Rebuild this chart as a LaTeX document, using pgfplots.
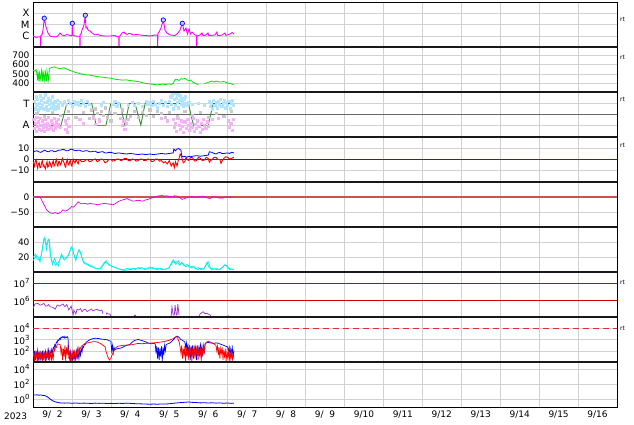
\documentclass[border=0pt]{standalone}
\usepackage{fontspec}
\setmainfont{DejaVu Sans}
\usepackage{pgfplots}
\pgfplotsset{compat=1.18}
\definecolor{cMag}{HTML}{FF00FF}
\definecolor{cGreen}{HTML}{00E600}
\definecolor{cLB}{HTML}{B0E4FF}
\definecolor{cPink}{HTML}{F8B0F8}
\definecolor{cGr}{HTML}{C8C8C8}
\definecolor{cStepB}{HTML}{4B4BFF}
\definecolor{cStepR}{HTML}{FF5050}
\definecolor{cStepG}{HTML}{3C8C3C}
\definecolor{cDRed}{HTML}{A00000}
\definecolor{cZero}{HTML}{D05050}
\definecolor{cMag2}{HTML}{E600E6}
\definecolor{cCyan}{HTML}{00F0F0}
\definecolor{cPurp}{HTML}{9B30D0}
\definecolor{cRedL}{HTML}{C80000}
\definecolor{cDash}{HTML}{E03030}
\newcommand{\tenp}[1]{10\raisebox{0.45em}{\fontsize{7}{7}\selectfont#1}}
\pgfplotsset{panel/.style={
  scale only axis, width=584pt, height=45pt, xmin=0, xmax=15,
  anchor=south west,
  axis line style={line width=0.5pt},
  xtick={0.5,1.5,...,14.5}, xticklabels={},
  minor xtick={1,2,...,14}, xminorgrids=true,
  major tick length=0pt, minor tick length=0pt,
  ymajorgrids=true,
  grid style={line width=0.4pt, color=black!18},
  minor grid style={line width=0.4pt, color=black!18},
  tick label style={font=\fontsize{9}{10}\selectfont},
  unbounded coords=jump,
  every axis plot/.append style={line width=0.6pt},
}}
\begin{document}
\begin{tikzpicture}
\useasboundingbox (0pt,0pt) rectangle (634pt,424pt);
% Panel 1: X-ray
\begin{axis}[panel, at={(33pt,377pt)}, ymode=log, ymin=1e-7, ymax=1e-3,
  ytick={1e-6,1e-5,1e-4}, yticklabels={C,M,X},
  yticklabel style={font=\fontsize{10}{11}\selectfont}]
\addplot[cMag, line width=0.9pt] coordinates {(0,9.5e-7)(0.077,7.0e-7)(0.15,8e-7)(0.195,7.5e-7)(0.198,1e-9)(0.201,1.1e-6)(0.231,1.17e-6)(0.257,3.2e-6)(0.290,3.6e-5)(0.334,6.0e-6)(0.385,1.75e-6)(0.437,9.5e-7)(0.565,7.7e-7)(0.63,9e-7)(0.694,1.75e-6)(0.745,1.17e-6)(0.80,1.0e-6)(0.873,1.3e-6)(0.950,1.05e-6)(1.0,1.1e-6)(1.010,1.28e-5)(1.027,1.1e-6)(1.079,9.5e-7)(1.15,9e-7)(1.204,9e-7)(1.207,1e-9)(1.210,1.3e-6)(1.233,1.43e-6)(1.259,3.2e-6)(1.310,9.0e-6)(1.343,6.6e-5)(1.361,4.9e-6)(1.385,6e-6)(1.413,3.2e-6)(1.464,2.6e-6)(1.516,1.75e-6)(1.593,1.17e-6)(1.670,1.43e-6)(1.721,1.05e-6)(1.849,9.5e-7)(1.978,9.5e-7)(2.106,1.05e-6)(2.183,7.7e-7)(2.206,7.7e-7)(2.209,1e-9)(2.212,9.5e-7)(2.235,9.5e-7)(2.286,1.75e-6)(2.338,2.15e-6)(2.36,1.6e-6)(2.415,1.3e-6)(2.46,1.6e-6)(2.492,1.6e-6)(2.569,1.17e-6)(2.646,1.3e-6)(2.749,1.17e-6)(2.877,1.05e-6)(3.006,9.5e-7)(3.134,1.17e-6)(3.200,1.1e-6)(3.203,1e-9)(3.206,1.5e-6)(3.237,2.15e-6)(3.288,4.9e-6)(3.347,2.5e-5)(3.391,3.2e-6)(3.442,1.75e-6)(3.519,1.17e-6)(3.647,1.05e-6)(3.724,1.75e-6)(3.776,3.2e-6)(3.835,1.28e-5)(3.879,2.6e-6)(3.930,4.9e-6)(3.969,1.43e-6)(4.007,4.0e-6)(4.046,1.43e-6)(4.084,2.15e-6)(4.161,1.17e-6)(4.202,1.1e-6)(4.205,1e-9)(4.208,1.0e-6)(4.238,1.0e-6)(4.290,1.17e-6)(4.341,1.75e-6)(4.36,1.1e-6)(4.418,1.05e-6)(4.495,1.75e-6)(4.51,1.1e-6)(4.547,1.05e-6)(4.675,1.17e-6)(4.726,2.15e-6)(4.74,1.1e-6)(4.778,1.05e-6)(4.855,1.17e-6)(4.932,1.75e-6)(4.95,1.1e-6)(4.983,1.17e-6)(5.060,1.43e-6)(5.112,1.95e-6)(5.163,1.43e-6)};
\addplot[only marks, mark=*, mark size=2.2pt, mark options={draw=blue, fill=blue!20, line width=0.7pt}] coordinates {(0.290,3.6e-5)(1.010,1.28e-5)(1.343,6.6e-5)(3.347,2.5e-5)(3.835,1.28e-5)};
\end{axis}
% Panel 2: speed
\begin{axis}[panel, at={(33pt,332pt)}, ymin=310, ymax=784,
  ytick={400,500,600,700}, yticklabels={400,500,600,700}]
\addplot[cGreen, line width=0.8pt] coordinates {(0,540)(0.05,530)(0.08,545)(0.1,500)(0.12,430)(0.13,520)(0.16,420)(0.17,510)(0.2,440)(0.22,530)(0.25,420)(0.26,520)(0.3,430)(0.31,540)(0.35,425)(0.36,530)(0.4,440)(0.42,560)(0.5,570)(0.55,575)(0.6,565)(0.65,560)(0.7,555)(0.8,565)(0.85,555)(0.9,545)(1.0,530)(1.1,515)(1.2,505)(1.3,495)(1.4,490)(1.5,485)(1.6,475)(1.7,470)(1.8,465)(1.9,460)(2.0,455)(2.1,445)(2.2,440)(2.3,435)(2.4,438)(2.5,430)(2.6,425)(2.7,420)(2.8,410)(2.9,400)(3.0,395)(3.1,390)(3.2,385)(3.3,392)(3.4,390)(3.5,395)(3.55,390)(3.6,400)(3.65,440)(3.7,445)(3.75,430)(3.8,450)(3.85,445)(3.9,455)(3.95,440)(4.0,430)(4.05,435)(4.1,415)(4.15,405)(4.2,395)(4.25,385)(4.3,nan)(4.4,400)(4.5,410)(4.55,420)(4.6,425)(4.65,415)(4.7,425)(4.8,415)(4.9,420)(5.0,405)(5.1,395)(5.16,385)};
\end{axis}
% Panel 3: sector
\begin{axis}[panel, at={(33pt,287pt)}, ymin=-2.1, ymax=2.05,
  ytick={-1,1}, yticklabels={A,T},
  yticklabel style={font=\fontsize{10}{11}\selectfont}]
\addplot[only marks, mark=square*, mark size=1.1pt, cGr] coordinates {(0.1,0.1)(0.3,-0.2)(0.5,0.2)(0.7,-0.1)(0.9,0.3)(1.1,-0.3)(1.3,0.2)(1.45,-0.4)(1.5,0.4)(1.55,-0.2)(1.6,0.5)(1.65,0.1)(1.7,-0.5)(1.75,0.3)(1.8,-0.1)(1.85,0.6)(1.9,-0.3)(1.95,0.2)(2.0,-0.6)(2.1,0.1)(2.3,0.4)(2.5,-0.2)(2.6,0.3)(2.7,-0.3)(2.8,0.2)(2.9,-0.1)(3.0,0.4)(3.1,-0.2)(3.2,0.3)(3.3,0.1)(3.4,-0.3)(3.5,0.2)(3.7,-0.2)(3.9,0.3)(4.1,-0.1)(4.3,0.2)(4.5,-0.3)(4.7,0.1)(4.9,-0.2)(5.1,0.3)};
\addplot[only marks, mark=square*, mark size=1.1pt, cLB] coordinates {(0.04,1.2)(0.06,0.5)(0.08,1.6)(0.10,0.8)(0.12,1.4)(0.14,0.4)(0.16,1.0)(0.18,1.7)(0.20,0.6)(0.22,1.3)(0.24,0.9)(0.26,1.5)(0.28,0.5)(0.30,1.1)(0.32,1.8)(0.34,0.7)(0.36,1.2)(0.38,0.4)(0.40,1.5)(0.42,0.9)(0.44,1.3)(0.46,0.6)(0.48,1.0)(0.50,1.6)(0.52,0.8)(0.54,1.2)(0.56,0.5)(0.58,1.1)(0.60,0.7)(0.62,1.3)(0.64,0.9)(0.66,0.6)(0.70,1.1)(0.75,0.8)(0.80,1.2)(0.85,0.9)(0.90,1.3)(0.95,1.0)(1.00,0.7)(1.05,1.2)(1.10,0.9)(1.15,1.1)(1.20,0.8)(1.25,1.3)(1.30,1.0)(1.35,0.7)(1.40,1.2)(1.45,0.9)(1.75,0.8)(1.80,1.1)(2.05,0.9)(2.10,1.2)(2.15,0.7)(2.20,1.0)(2.45,0.8)(2.55,1.1)(2.60,0.8)(2.70,1.0)(2.80,0.7)(2.90,1.2)(2.95,0.9)(3.00,1.1)(3.05,0.8)(3.10,1.2)(3.15,0.9)(3.20,0.6)(3.25,1.0)(3.30,1.3)(3.35,0.8)(3.40,1.1)(3.45,0.7)(3.50,1.2)(3.54,1.6)(3.56,0.9)(3.58,1.8)(3.60,0.5)(3.62,1.4)(3.64,1.9)(3.66,0.8)(3.68,1.5)(3.70,1.1)(3.72,1.8)(3.74,0.6)(3.76,1.3)(3.78,1.7)(3.80,0.9)(3.82,1.5)(3.84,1.2)(3.86,0.7)(3.88,1.4)(3.90,1.0)(3.92,1.6)(3.95,0.8)(4.00,1.1)(4.10,0.9)(4.25,1.0)(4.40,0.8)(4.52,1.2)(4.55,0.7)(4.58,1.0)(4.61,0.5)(4.64,1.3)(4.67,0.8)(4.70,1.1)(4.73,0.6)(4.76,1.2)(4.79,0.9)(4.82,1.4)(4.85,0.7)(4.88,1.0)(4.91,1.3)(4.94,0.6)(4.97,1.1)(5.00,0.8)(5.03,1.2)(5.06,0.5)(5.09,1.0)(5.12,1.3)(5.15,0.8)};
\addplot[only marks, mark=square*, mark size=1.1pt, cPink] coordinates {(0.02,-0.5)(0.04,-1.3)(0.06,-0.8)(0.08,-1.6)(0.10,-0.3)(0.12,-1.1)(0.14,-0.7)(0.16,-1.4)(0.18,-0.4)(0.20,-1.0)(0.22,-1.5)(0.24,-0.6)(0.26,-1.2)(0.28,-0.9)(0.30,-1.6)(0.32,-0.5)(0.34,-1.1)(0.36,-0.8)(0.38,-1.4)(0.40,-0.3)(0.42,-1.0)(0.44,-1.3)(0.46,-0.6)(0.48,-1.2)(0.50,-0.8)(0.52,-1.5)(0.54,-0.4)(0.56,-1.0)(0.58,-1.3)(0.60,-0.7)(0.62,-1.1)(0.64,-0.5)(0.66,-0.9)(0.70,-1.2)(0.82,-0.6)(0.84,-1.4)(0.86,-0.9)(0.88,-1.7)(0.90,-0.4)(0.92,-1.1)(1.20,-0.5)(1.30,-0.8)(1.55,-0.4)(1.60,-0.9)(1.70,-0.6)(2.25,-0.4)(2.30,-1.0)(2.33,-0.6)(2.36,-1.4)(2.40,-0.8)(2.44,-0.5)(3.30,-0.4)(3.45,-0.6)(3.60,-0.5)(3.63,-1.2)(3.66,-0.8)(3.69,-1.6)(3.72,-0.4)(3.75,-1.0)(3.78,-1.4)(3.81,-0.6)(3.84,-1.1)(3.87,-1.7)(3.90,-0.7)(3.93,-1.3)(3.96,-0.5)(3.99,-1.0)(4.02,-1.5)(4.05,-0.8)(4.08,-1.2)(4.11,-0.4)(4.14,-1.6)(4.17,-0.9)(4.20,-1.3)(4.23,-0.6)(4.26,-1.1)(4.29,-1.7)(4.32,-0.8)(4.35,-1.4)(4.38,-0.5)(4.41,-1.0)(4.44,-1.3)(4.47,-0.7)(4.50,-1.1)(4.60,-0.5)(4.75,-0.4)(5.02,-0.6)(5.05,-1.2)(5.08,-0.8)(5.11,-1.5)(5.14,-0.5)};
\addplot[color=black!60, line width=0.7pt] coordinates {(0,0)(15,0)};
\addplot[cStepR, line width=0.9pt] coordinates {(0,-1)(0.72,-1)};
\addplot[cStepR, line width=0.9pt] coordinates {(1.62,-1)(1.875,-1)};
\addplot[cStepR, line width=0.9pt] coordinates {(4.12,-1)(4.50,-1)};
\addplot[cStepB, line width=0.9pt] coordinates {(0.87,1)(1.51,1)};
\addplot[cStepB, line width=0.9pt] coordinates {(2.0,1)(2.235,1)};
\addplot[cStepB, line width=0.9pt] coordinates {(2.47,1)(2.62,1)};
\addplot[cStepB, line width=0.9pt] coordinates {(2.88,1)(3.99,1)};
\addplot[cStepB, line width=0.9pt] coordinates {(4.63,1)(5.14,1)};
\addplot[cStepG, line width=0.9pt] coordinates {(0.72,-1)(0.87,1)};
\addplot[cStepG, line width=0.9pt] coordinates {(1.51,1)(1.62,-1)};
\addplot[cStepG, line width=0.9pt] coordinates {(1.875,-1)(2.0,1)};
\addplot[cStepG, line width=0.9pt] coordinates {(2.235,1)(2.36,-1)(2.47,1)};
\addplot[cStepG, line width=0.9pt] coordinates {(2.62,1)(2.77,-1)(2.88,1)};
\addplot[cStepG, line width=0.9pt] coordinates {(3.99,1)(4.12,-1)};
\addplot[cStepG, line width=0.9pt] coordinates {(4.50,-1)(4.63,1)};
\end{axis}
% Panel 4: IMF
\begin{axis}[panel, at={(33pt,242pt)}, ymin=-20.5, ymax=20.5,
  ytick={-10,0,10}, yticklabels={−10,0,10}]
\addplot[cDRed, line width=0.6pt] coordinates {(0,0)(15,0)};
\addplot[blue, line width=0.8pt] coordinates {(0,7)(0.05,7.5)(0.1,8)(0.15,7)(0.2,6.5)(0.25,7.5)(0.3,8.5)(0.35,7.5)(0.4,7)(0.45,8)(0.5,8)(0.55,7)(0.6,7.5)(0.65,8.5)(0.7,8.5)(0.75,9)(0.8,9)(0.85,8)(0.9,8)(0.95,9)(1.0,9.5)(1.05,8.5)(1.1,8)(1.15,8.5)(1.2,8.5)(1.25,7.5)(1.3,7.5)(1.35,8)(1.4,8)(1.45,7)(1.5,7)(1.55,7.5)(1.6,7.5)(1.65,6.5)(1.7,6.5)(1.75,7)(1.8,7)(1.85,6)(1.9,6)(1.95,6.5)(2.0,6.5)(2.1,5.5)(2.2,6)(2.3,5.5)(2.4,5)(2.5,5.5)(2.6,5)(2.7,4.5)(2.8,5)(2.9,4.5)(3.0,5)(3.1,4.5)(3.2,5)(3.3,5.5)(3.4,5)(3.5,5.5)(3.6,6)(3.62,9.5)(3.66,8)(3.7,9.5)(3.74,10)(3.78,9)(3.8,8.5)(3.82,3)(3.86,2.5)(3.9,3)(3.95,2)(4.0,3)(4.05,2.5)(4.1,3)(4.2,3.5)(4.3,3)(4.4,3.5)(4.5,4)(4.53,7)(4.6,6.5)(4.65,5.5)(4.7,5)(4.75,6)(4.8,6.5)(4.85,5.5)(4.9,5.5)(5.0,6)(5.05,5.5)(5.1,6.5)(5.16,6)};
\addplot[red, line width=0.9pt] coordinates {(0,-2)(0.04,-6)(0.06,-1)(0.08,0)(0.1,-5)(0.12,-8)(0.14,-4)(0.16,-3)(0.18,-7.5)(0.2,-7)(0.22,-3)(0.24,-1)(0.26,-6)(0.28,-5)(0.3,-7)(0.32,-8.5)(0.34,-4)(0.36,-2)(0.38,-7)(0.4,-6)(0.42,-2)(0.44,-3)(0.46,-6)(0.48,-7)(0.5,-3)(0.52,-1)(0.54,-6)(0.56,-5)(0.58,-2)(0.6,0)(0.62,-5)(0.64,-6)(0.66,-2)(0.68,-2)(0.7,-5)(0.72,-4)(0.74,-1)(0.76,1)(0.78,-2)(0.8,-3)(0.82,-6)(0.84,-7)(0.86,-2)(0.88,0)(0.9,-4)(0.92,-5)(0.94,-2)(0.96,-1)(0.98,-5)(1.0,-6)(1.02,-2)(1.04,0)(1.06,-2)(1.08,-3)(1.1,-1)(1.12,-1)(1.14,-3)(1.16,-4)(1.18,-1)(1.2,0)(1.25,-2)(1.3,-2)(1.35,-0.5)(1.4,0)(1.45,-2)(1.5,-1.5)(1.55,0)(1.6,0.5)(1.65,-2)(1.7,-1)(1.75,0.5)(1.8,0)(1.85,-3)(1.9,-2)(1.95,0)(2.0,0)(2.05,-1.5)(2.1,-1)(2.15,0.5)(2.2,0.5)(2.25,-1)(2.3,-0.5)(2.35,1)(2.4,1)(2.45,-1)(2.5,-1)(2.55,0.5)(2.6,0)(2.65,-1.5)(2.7,-1)(2.75,0.5)(2.8,0.5)(2.85,-1)(2.9,-1)(2.95,0.5)(3.0,0)(3.05,-2)(3.1,-1.5)(3.15,0.5)(3.2,0.5)(3.25,-1.5)(3.3,-1)(3.35,-3)(3.4,-2)(3.45,-4)(3.5,-1)(3.55,-6)(3.6,-3)(3.63,-7.5)(3.66,-2)(3.7,-6)(3.73,-1)(3.76,2)(3.78,5)(3.8,4)(3.83,1)(3.86,-3)(3.9,-2)(3.93,2)(3.96,0)(4.0,-1)(4.05,2)(4.1,1.5)(4.15,-1.5)(4.2,-1)(4.25,2)(4.3,1)(4.35,-1)(4.4,-0.5)(4.45,2)(4.5,1)(4.53,-2.5)(4.56,-1)(4.6,0)(4.65,2)(4.7,2)(4.75,0)(4.8,0)(4.83,-3.5)(4.86,-1)(4.9,1)(4.95,2.5)(5.0,2)(5.05,0.5)(5.1,1)(5.16,2)};
\end{axis}
% Panel 5: Dst
\begin{axis}[panel, at={(33pt,197pt)}, ymin=-100, ymax=50,
  ytick={-50,0}, yticklabels={−50,0}]
\addplot[cZero, line width=1.3pt] coordinates {(0,0)(15,0)};
\addplot[cMag2, line width=0.7pt] coordinates {(0,0)(0.1,1)(0.18,0)(0.26,-20)(0.35,-43)(0.44,-53)(0.51,-55)(0.57,-52)(0.64,-56)(0.72,-50)(0.77,-43)(0.82,-47)(0.87,-45)(0.95,-38)(0.99,-32)(1.04,-34)(1.08,-29)(1.16,-16)(1.2,-20)(1.25,-23)(1.34,-21)(1.4,-24)(1.46,-21)(1.53,-23)(1.59,-24)(1.67,-26)(1.75,-23)(1.85,-21)(1.92,-23)(1.98,-24)(2.05,-26)(2.12,-22)(2.18,-16)(2.29,-10)(2.36,-8)(2.41,-5)(2.48,-9)(2.54,-13)(2.62,-13)(2.68,-11)(2.75,-12)(2.82,-14)(2.88,-10)(2.95,-8)(3.01,-5)(3.1,-1)(3.19,3)(3.25,4)(3.31,5)(3.38,3)(3.44,4)(3.5,2)(3.57,1)(3.63,4)(3.7,3)(3.77,-2)(3.83,-8)(3.9,-5)(3.96,-2)(4.02,0)(4.08,2)(4.15,-1)(4.21,0)(4.3,2)(4.37,3)(4.42,0)(4.47,-3)(4.55,-5)(4.6,-1)(4.65,1)(4.73,-1)(4.8,-4)(4.88,-3)(4.93,-1)(4.98,1)(5.06,-2)(5.1,-1)(5.14,-1)};
\end{axis}
% Panel 6: cyan
\begin{axis}[panel, at={(33pt,152pt)}, ymin=0, ymax=60,
  ytick={20,40}, yticklabels={20,40}]
\addplot[cCyan, line width=0.7pt] coordinates {(0,15)(0.08,22)(0.13,20)(0.18,13)(0.23,27)(0.28,44)(0.31,45)(0.35,30)(0.38,42)(0.42,43)(0.46,20)(0.5,10)(0.55,18)(0.6,12)(0.65,8)(0.7,18)(0.75,22)(0.8,16)(0.87,20)(0.93,25)(0.98,33)(1.02,30)(1.06,22)(1.1,15)(1.15,26)(1.2,29)(1.25,20)(1.3,12)(1.38,10)(1.45,8)(1.55,6)(1.65,4)(1.75,6)(1.82,12)(1.88,15)(1.95,9)(2.05,7)(2.15,5)(2.25,3)(2.35,2)(2.45,3)(2.55,5)(2.62,3)(2.7,6)(2.8,4)(2.9,5)(3.0,6)(3.1,4)(3.2,5)(3.3,3)(3.4,4)(3.5,6)(3.58,15)(3.63,12)(3.7,14)(3.76,9)(3.82,13)(3.88,8)(3.95,10)(4.03,6)(4.1,8)(4.18,4)(4.25,6)(4.32,3)(4.4,5)(4.47,13)(4.52,6)(4.6,3)(4.7,5)(4.8,3)(4.9,8)(4.97,9)(5.05,3)(5.16,4)};
\addplot[cCyan, line width=0.7pt] coordinates {(0,19)(0.06,24)(0.11,17)(0.16,16)(0.21,22)(0.26,38)(0.29,46)(0.33,36)(0.37,40)(0.41,44)(0.44,25)(0.48,14)(0.53,15)(0.58,9)(0.63,11)(0.68,15)(0.73,24)(0.78,19)(0.85,18)(0.91,22)(0.96,30)(1.0,34)(1.04,25)(1.08,18)(1.13,22)(1.18,30)(1.23,24)(1.28,15)(1.35,12)(1.42,10)(1.52,8)(1.62,5)(1.72,4)(1.8,9)(1.86,13)(1.93,11)(2.02,8)(2.12,6)(2.22,4)(2.32,3)(2.42,5)(2.52,3)(2.6,5)(2.68,4)(2.78,6)(2.88,3)(2.98,5)(3.08,6)(3.18,3)(3.28,5)(3.38,3)(3.48,5)(3.56,11)(3.61,16)(3.67,10)(3.73,15)(3.79,10)(3.85,12)(3.92,7)(4.0,9)(4.08,5)(4.15,7)(4.22,3)(4.3,5)(4.38,4)(4.45,9)(4.5,14)(4.56,5)(4.65,4)(4.75,3)(4.85,5)(4.93,10)(5.0,6)(5.08,4)(5.16,3)};
\end{axis}
% Panel 7: purple
\begin{axis}[panel, at={(33pt,107pt)}, ymode=log, ymin=1.15e5, ymax=4.5e7,
  ytick={1e6,1e7}, yticklabels={\tenp{6},\tenp{7}}]
\addplot[cRedL, line width=0.6pt] coordinates {(0,1e6)(15,1e6)};
\addplot[cRedL, line width=0.6pt] coordinates {(0,1e7)(15,1e7)};
\addplot[cPurp, line width=0.7pt] coordinates {(0,3.6e5)(0.05,6.5e5)(0.13,7e5)(0.18,5.5e5)(0.23,6e5)(0.28,7e5)(0.32,5e5)(0.36,4.9e5)(0.40,6e5)(0.44,4.5e5)(0.51,4.1e5)(0.57,3.2e5)(0.62,5.6e5)(0.69,4.9e5)(0.77,6.5e5)(0.82,4.5e5)(0.87,6e5)(0.92,2.9e5)(0.98,4.9e5)(1.03,1.5e5)(1.05,2.9e5)(1.10,1.7e5)(1.13,3.2e5)(1.18,2.9e5)(1.22,3.5e5)(1.26,2.3e5)(1.30,3e5)(1.34,3.2e5)(1.39,2.4e5)(1.46,2.9e5)(1.50,3.3e5)(1.54,2.6e5)(1.60,3e5)(1.64,3.2e5)(1.72,2.6e5)(1.77,2.9e5)(1.80,1.7e5)(1.84,nan)(1.88,1.6e5)(1.90,2.0e5)(1.93,1.7e5)(1.98,1.7e5)(2.0,1.3e5)(2.3,nan)(2.60,1.3e5)(2.62,1.5e5)(2.64,1.3e5)(3.0,nan)(3.55,1.3e5)(3.57,4.5e5)(3.60,1.5e5)(3.63,1.5e5)(3.65,5.6e5)(3.68,1.5e5)(3.70,1.5e5)(3.72,6.5e5)(3.75,1.5e5)(4.0,nan)(4.27,1.3e5)(4.29,1.7e5)(4.33,2.0e5)(4.37,2.3e5)(4.42,1.8e5)(4.47,1.85e5)(4.55,1.5e5)(4.57,1.3e5)(4.8,nan)(5.0,1.3e5)(5.01,1.35e5)(5.03,1.3e5)};
\end{axis}
% Panel 8: flux
\begin{axis}[panel, at={(33pt,62pt)}, ymode=log, ymin=10, ymax=1e5,
  ytick={100,1000,10000}, yticklabels={\tenp{2},\tenp{3},\tenp{4}}]
\addplot[cDash, line width=0.8pt, dash pattern=on 6pt off 4pt] coordinates {(0,1e4)(15,1e4)};
\addplot[blue, line width=0.7pt] coordinates {(0.00,60)(0.02,20)(0.04,90)(0.06,15)(0.08,70)(0.10,30)(0.12,110)(0.14,20)(0.16,80)(0.18,12)(0.20,60)(0.22,25)(0.24,100)(0.26,15)(0.28,70)(0.30,30)(0.32,90)(0.34,18)(0.36,60)(0.38,25)(0.40,110)(0.42,20)(0.44,80)(0.46,40)(0.48,130)(0.50,60)(0.52,200)(0.54,150)(0.56,350)(0.58,300)(0.60,600)(0.62,500)(0.64,900)(0.66,800)(0.68,1200)(0.70,1000)(0.72,1600)(0.74,1400)(0.76,1800)(0.78,1500)(0.80,1900)(0.82,1300)(0.84,1700)(0.86,1500)(0.88,1800)(0.90,1400)(0.92,60)(0.94,20)(0.96,80)(0.98,15)(1.00,50)(1.02,12)(1.04,70)(1.06,20)(1.08,40)(1.10,15)(1.12,90)(1.14,25)(1.16,60)(1.18,18)(1.20,110)(1.22,40)(1.24,150)(1.26,80)(1.28,250)(1.30,200)(1.32,400)(1.34,350)(1.36,550)(1.40,700)(1.45,900)(1.50,1100)(1.55,1200)(1.60,1300)(1.65,1250)(1.70,1200)(1.75,1100)(1.80,1050)(1.85,1000)(1.90,950)(1.95,800)(2.00,700)(2.02,100)(2.04,300)(2.06,60)(2.08,200)(2.10,120)(2.15,150)(2.20,160)(2.25,170)(2.30,200)(2.35,250)(2.40,300)(2.45,320)(2.50,400)(2.55,600)(2.60,800)(2.65,900)(2.70,1000)(2.75,900)(2.80,800)(2.85,700)(2.90,600)(2.95,500)(3.00,450)(3.05,420)(3.10,460)(3.14,400)(3.16,60)(3.18,250)(3.20,20)(3.22,200)(3.24,15)(3.26,150)(3.28,30)(3.30,250)(3.32,12)(3.34,200)(3.36,40)(3.38,300)(3.40,100)(3.42,350)(3.45,400)(3.50,450)(3.55,600)(3.60,900)(3.65,1500)(3.70,2000)(3.73,1800)(3.76,1400)(3.80,1000)(3.85,800)(3.90,600)(3.92,200)(3.94,500)(3.96,80)(3.98,400)(4.00,30)(4.02,300)(4.04,15)(4.06,250)(4.08,60)(4.10,300)(4.12,20)(4.14,200)(4.16,50)(4.18,250)(4.20,15)(4.22,300)(4.24,40)(4.26,200)(4.28,100)(4.30,350)(4.32,80)(4.34,250)(4.36,30)(4.38,300)(4.40,60)(4.42,400)(4.45,500)(4.50,550)(4.55,500)(4.60,480)(4.65,450)(4.70,500)(4.75,480)(4.80,400)(4.85,350)(4.90,300)(4.95,250)(5.00,220)(5.02,80)(5.04,200)(5.06,30)(5.08,150)(5.10,60)(5.12,180)(5.14,20)(5.16,120)};
\addplot[red, line width=0.7pt] coordinates {(0.00,30)(0.02,80)(0.04,12)(0.06,60)(0.08,20)(0.10,90)(0.12,11)(0.14,50)(0.16,25)(0.18,100)(0.20,15)(0.22,70)(0.24,12)(0.26,50)(0.28,20)(0.30,80)(0.32,11)(0.34,60)(0.36,30)(0.38,100)(0.40,15)(0.42,70)(0.44,25)(0.46,90)(0.48,12)(0.50,60)(0.52,20)(0.54,150)(0.56,100)(0.58,250)(0.60,200)(0.62,320)(0.66,400)(0.70,350)(0.72,60)(0.74,200)(0.76,15)(0.78,150)(0.80,30)(0.82,300)(0.84,12)(0.86,200)(0.88,40)(0.90,350)(0.92,20)(0.94,100)(0.96,11)(0.98,60)(1.00,15)(1.02,80)(1.04,25)(1.06,120)(1.08,12)(1.10,70)(1.12,30)(1.14,150)(1.16,60)(1.18,200)(1.20,120)(1.24,250)(1.30,350)(1.35,450)(1.40,500)(1.45,550)(1.50,600)(1.55,650)(1.60,630)(1.65,600)(1.70,500)(1.75,400)(1.80,300)(1.85,230)(1.88,80)(1.92,30)(1.96,15)(2.00,20)(2.04,50)(2.08,100)(2.12,180)(2.18,250)(2.25,280)(2.30,300)(2.40,320)(2.50,330)(2.60,380)(2.70,450)(2.80,420)(2.90,460)(3.00,470)(3.10,500)(3.20,550)(3.30,600)(3.40,700)(3.50,850)(3.60,1200)(3.65,1600)(3.68,1800)(3.72,1300)(3.76,500)(3.78,200)(3.80,60)(3.82,300)(3.84,20)(3.86,150)(3.88,40)(3.90,250)(3.92,12)(3.94,200)(3.96,30)(3.98,150)(4.00,15)(4.02,250)(4.04,50)(4.06,200)(4.08,12)(4.10,120)(4.12,40)(4.14,300)(4.16,20)(4.18,200)(4.20,60)(4.22,250)(4.24,15)(4.26,150)(4.28,30)(4.30,200)(4.32,12)(4.34,120)(4.36,50)(4.38,300)(4.40,80)(4.42,400)(4.45,550)(4.50,700)(4.55,600)(4.60,500)(4.65,400)(4.70,300)(4.72,100)(4.74,250)(4.76,40)(4.78,200)(4.80,20)(4.82,150)(4.84,60)(4.86,200)(4.88,15)(4.90,120)(4.92,30)(4.94,100)(4.96,12)(4.98,80)(5.00,25)(5.02,90)(5.04,12)(5.06,60)(5.08,20)(5.10,70)(5.12,15)(5.14,50)(5.16,30)};
\end{axis}
% Panel 9: bottom
\begin{axis}[panel, at={(33pt,17pt)}, ymode=log, ymin=0.085, ymax=85000,
  ytick={1,100,10000}, yticklabels={\tenp{0},\tenp{2},\tenp{4}},
  xticklabels={9/\phantom{0}2,9/\phantom{0}3,9/\phantom{0}4,9/\phantom{0}5,9/\phantom{0}6,9/\phantom{0}7,9/\phantom{0}8,9/\phantom{0}9,9/10,9/11,9/12,9/13,9/14,9/15,9/16}]
\addplot[blue, line width=0.8pt] coordinates {(0,3.5)(0.05,3.3)(0.1,3.6)(0.15,3.2)(0.2,3.4)(0.25,3.0)(0.3,2.8)(0.35,2.2)(0.4,1.5)(0.45,0.9)(0.5,0.6)(0.55,0.45)(0.6,0.38)(0.65,0.33)(0.7,0.3)(0.8,0.28)(0.9,0.3)(1.0,0.27)(1.1,0.29)(1.2,0.26)(1.3,0.28)(1.4,0.27)(1.5,0.25)(1.6,0.28)(1.7,0.26)(1.8,0.27)(1.9,0.25)(2.0,0.26)(2.1,0.24)(2.2,0.27)(2.3,0.25)(2.4,0.28)(2.5,0.26)(2.6,0.24)(2.7,0.23)(2.8,0.22)(2.9,0.21)(3.0,0.2)(3.1,0.21)(3.2,0.2)(3.3,0.22)(3.4,0.21)(3.5,0.23)(3.6,0.27)(3.7,0.3)(3.8,0.33)(3.9,0.36)(4.0,0.4)(4.1,0.35)(4.2,0.33)(4.3,0.3)(4.4,0.32)(4.5,0.29)(4.6,0.31)(4.7,0.28)(4.8,0.3)(4.9,0.27)(5.0,0.29)(5.1,0.26)(5.16,0.28)};
\end{axis}
% panel separators
\foreach \yy in {377,332,287,242,197,152,107,62}{
  \draw[line width=2pt, black!90] (33pt,\yy pt) -- (617pt,\yy pt);
}
\draw[line width=1pt] (33pt,17pt) -- (617pt,17pt);
\node[font=\fontsize{9}{10}\selectfont, anchor=base west, inner sep=0pt] at (4pt,4.5pt) {2023};
\foreach \yy in {405,367,325,279,142,96}{
  \node[font=\fontsize{6}{6}\selectfont, anchor=west, inner sep=0pt] at (620pt,\yy pt) {rt};
}
\end{tikzpicture}
\end{document}
